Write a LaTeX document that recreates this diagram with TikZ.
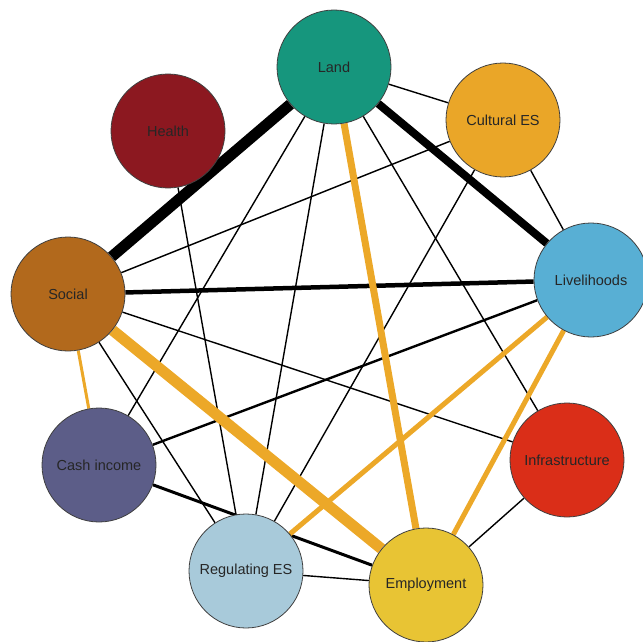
\documentclass[tikz,border=0pt]{standalone}
\usepackage{fontspec}
\setmainfont{Liberation Sans}
\usetikzlibrary{backgrounds}

\definecolor{landcol}{RGB}{22,150,125}
\definecolor{healthcol}{RGB}{140,24,32}
\definecolor{culturalcol}{RGB}{234,166,40}
\definecolor{socialcol}{RGB}{178,105,28}
\definecolor{livelicol}{RGB}{88,175,212}
\definecolor{cashcol}{RGB}{92,93,136}
\definecolor{infracol}{RGB}{218,46,24}
\definecolor{regcol}{RGB}{168,202,218}
\definecolor{emplcol}{RGB}{232,196,52}
\definecolor{linkorange}{RGB}{236,168,40}

\tikzset{
    topic/.style={circle, draw=black!75, line width=0.8pt, minimum size=114pt,
        inner sep=0pt, font=\fontsize{14.5}{16}\selectfont, text=black!85},
    blacklink/.style={draw=black, line width=#1},
    orangelink/.style={draw=linkorange, line width=#1}
}

\begin{document}
\begin{tikzpicture}[x=1pt, y=-1pt]
    \useasboundingbox (0,0) rectangle (643,642);
    % Draw the topics
    \node[topic, fill=landcol] (land) at (334, 67) {Land};
    \node[topic, fill=healthcol] (health) at (168, 131) {Health};
    \node[topic, fill=culturalcol] (cultural) at (503, 120) {Cultural ES};
    \node[topic, fill=socialcol] (social) at (68, 294) {Social};
    \node[topic, fill=livelicol] (liveli) at (591, 280) {Livelihoods};
    \node[topic, fill=cashcol] (cash) at (99, 465) {Cash income};
    \node[topic, fill=infracol] (infra) at (567, 460) {Infrastructure};
    \node[topic, fill=regcol] (reg) at (246, 571) {Regulating ES};
    \node[topic, fill=emplcol] (empl) at (426, 585) {Employment};

    \begin{scope}[on background layer]
    % Draw the thin links
    \draw[blacklink=1.4pt] (land) -- (cultural);
    \draw[blacklink=1.4pt] (land) -- (cash);
    \draw[blacklink=1.4pt] (land) -- (reg);
    \draw[blacklink=1.4pt] (land) -- (infra);
    \draw[blacklink=1.4pt] (health) -- (reg);
    \draw[blacklink=1.4pt] (social) -- (cultural);
    \draw[blacklink=1.4pt] (social) -- (infra);
    \draw[blacklink=1.4pt] (social) -- (reg);
    \draw[blacklink=1.4pt] (cultural) -- (liveli);
    \draw[blacklink=1.4pt] (cultural) -- (reg);
    \draw[blacklink=1.4pt] (reg) -- (empl);
    \draw[blacklink=1.4pt] (infra) -- (empl);
    \draw[blacklink=2.4pt] (liveli) -- (cash);
    \draw[blacklink=3pt] (cash) -- (empl);

    % Draw the strong links
    \draw[blacklink=4.5pt] (social) -- (liveli);
    \draw[blacklink=8pt] (land) -- (liveli);
    \draw[blacklink=11pt] (land) -- (social);

    \draw[orangelink=3pt] (social) -- (cash);
    \draw[orangelink=5pt] (liveli) -- (reg);
    \draw[orangelink=5pt] (liveli) -- (empl);
    \draw[orangelink=7pt] (land) -- (empl);
    \draw[orangelink=11pt] (social) -- (empl);
    \end{scope}
\end{tikzpicture}
\end{document}
